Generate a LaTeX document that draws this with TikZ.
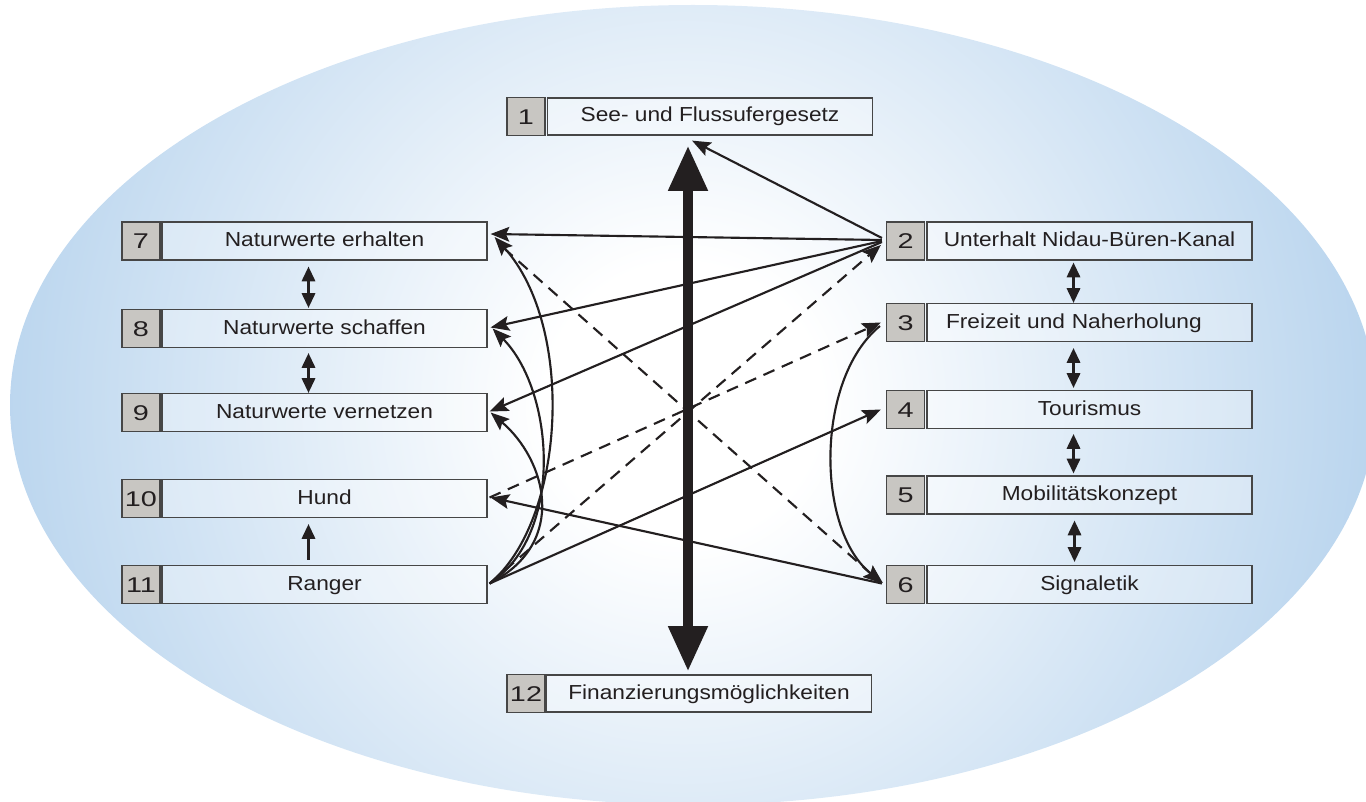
\documentclass[tikz,border=0pt]{standalone}
\usepackage{fontspec}
\setmainfont{Liberation Sans}[FakeStretch=1.12]
\newfontfamily\numfont{Liberation Sans}[FakeStretch=1.35]
\usetikzlibrary{arrows.meta,calc}
\definecolor{edgeblue}{RGB}{186,213,238}
\definecolor{numgray}{RGB}{200,198,194}
\definecolor{ink}{RGB}{35,31,32}
\definecolor{boxline}{RGB}{70,70,70}
\newdimen\pxu \pxu=0.75pt
\pgfdeclareradialshading{bgshade}{\pgfpoint{0bp}{0bp}}{color(0bp)=(white); color(5bp)=(white); color(25bp)=(edgeblue); color(50bp)=(edgeblue)}
\begin{document}
\begin{tikzpicture}[x=0.75pt,y=-0.75pt,
  numbox/.style={draw=boxline, line width=0.9pt, fill=numgray, minimum width=38*\pxu, minimum height=38*\pxu, inner sep=0pt, font=\numfont\fontsize{16}{18}\selectfont, text=ink, text height=11.5pt, text depth=0pt},
  txtbox/.style={draw=boxline, line width=0.9pt, fill=white, fill opacity=0.3, text opacity=1, minimum width=325*\pxu, minimum height=38*\pxu, inner sep=0pt, font=\fontsize{15.2}{18}\selectfont, text=ink, text height=10pt, text depth=1.75pt},
  conn/.style={draw=ink, line width=1.6pt, -{Stealth[length=14pt,width=11pt,inset=2.5pt]}},
  dconn/.style={conn, dash pattern=on 9pt off 6pt},
  dbl/.style={draw=ink, line width=1.6pt, {Triangle[length=11pt,width=10pt]}-{Triangle[length=11pt,width=10pt]}},
  upar/.style={draw=ink, line width=1.6pt, -{Triangle[length=11pt,width=10pt]}},
  big/.style={draw=ink, line width=7.5pt, {Triangle[length=34pt,width=28pt]}-{Triangle[length=34pt,width=28pt]}},
]
\useasboundingbox (0,0) rectangle (1366,802);
% background ellipse
\begin{scope}
  \clip (693,405) ellipse [x radius=683, y radius=400];
  \shade[shading=bgshade] (-7,-288) rectangle (1373,1092);
\end{scope}

% boxes
\node[numbox] (n1) at (526,116.5) {1};
\node[txtbox, minimum height=37*\pxu] (t1) at (710,116.5) {See- und Flussufergesetz};
\node[numbox] (n12) at (526,693.5) {12};
\node[txtbox, minimum height=37*\pxu] (t12) at (709,693.5) {Finanzierungsmöglichkeiten};

\node[numbox] (n7) at (141,241) {7};
\node[txtbox] (t7) at (324.5,241) {Naturwerte erhalten};
\node[numbox] (n8) at (141,328.5) {8};
\node[txtbox] (t8) at (324.5,328.5) {Naturwerte schaffen};
\node[numbox] (n9) at (141,412.5) {9};
\node[txtbox] (t9) at (324.5,412.5) {Naturwerte vernetzen};
\node[numbox] (n10) at (141,498.5) {10};
\node[txtbox] (t10) at (324.5,498.5) {Hund};
\node[numbox] (n11) at (141,584.5) {11};
\node[txtbox] (t11) at (324.5,584.5) {Ranger};

\node[numbox] (n2) at (905.5,241) {2};
\node[txtbox] (t2) at (1089.5,241) {Unterhalt Nidau-Büren-Kanal};
\node[numbox] (n3) at (905.5,322.5) {3};
\node[txtbox, inner xsep=19*\pxu, text width=287*\pxu, align=left] (t3) at (1089.5,322.5) {Freizeit und Naherholung};
\node[numbox] (n4) at (905.5,409.5) {4};
\node[txtbox] (t4) at (1089.5,409.5) {Tourismus};
\node[numbox] (n5) at (905.5,495) {5};
\node[txtbox] (t5) at (1089.5,495) {Mobilitätskonzept};
\node[numbox] (n6) at (905.5,584.5) {6};
\node[txtbox] (t6) at (1089.5,584.5) {Signaletik};

% big double arrow
\draw[big] ($(t1.south)+(-22,10)$) -- ($(t12.north)+(-21,-3)$);

% vertical neighbour arrows
\draw[dbl] ($(t7.south)+(-16,6)$) -- ($(t8.north)+(-16,-1)$);
\draw[dbl] ($(t8.south)+(-16,5)$) -- ($(t9.north)+(-16,0)$);
\draw[upar] ($(t11.north)+(-16,-5)$) -- ($(t10.south)+(-16,6)$);
\draw[dbl] ($(t2.south)+(-16,2)$) -- ($(t3.north)+(-16,0)$);
\draw[dbl] ($(t3.south)+(-16,6)$) -- ($(t4.north)+(-16,-2)$);
\draw[dbl] ($(t4.south)+(-16,5)$) -- ($(t5.north)+(-16,-2)$);
\draw[dbl] ($(t5.south)+(-15,6)$) -- ($(t6.north)+(-15,-3)$);

% from 2
\draw[conn] ($(n2.west)+(-4,-3)$) -- ($(t1.south)+(-18,5)$);
\draw[conn] ($(n2.west)+(-4,-1)$) -- ($(t7.east)+(3,-7)$);
\draw[conn] ($(n2.west)+(-4,0)$) -- ($(t8.east)+(3,-1)$);
\draw[conn] ($(n2.west)+(-4,1)$) -- ($(t9.east)+(2,-1)$);

% dashed
\draw[dconn] ($(t11.east)+(2,-1)$) -- ($(n2.west)+(-5,4)$);
\draw[dconn] ($(t10.east)+(2,-1)$) -- ($(n3.west)+(-5,0)$);
\draw[dconn] ($(t7.east)+(16,7)$) -- ($(n6.west)+(-4,-1)$);

% other straight
\draw[conn] ($(t11.east)+(2,-1)$) -- ($(n4.west)+(-5,0)$);
\draw[conn] ($(n6.west)+(-4,-1)$) -- ($(t10.east)+(3,-1)$);

% curves from 11
\draw[conn] ($(t11.east)+(2,-1)$) .. controls ($(t11.east)+(78,-64)$) and ($(t7.east)+(88,86)$) .. ($(t7.east)+(7,-4)$);
\draw[conn] ($(t11.east)+(2,-1)$) .. controls ($(t11.east)+(78,-51)$) and ($(t8.east)+(66,61)$) .. ($(t8.east)+(5,0)$);
\draw[conn] ($(t11.east)+(2,-1)$) .. controls ($(t11.east)+(82,-42)$) and ($(t9.east)+(58,47)$) .. ($(t9.east)+(3,0)$);
% curve 3 -> 6
\draw[conn] ($(n3.west)+(-6,3.5)$) .. controls ($(n3.west)+(-71,57)$) and ($(n6.west)+(-70,-54)$) .. ($(n6.west)+(-3,-1.5)$);
\end{tikzpicture}
\end{document}
